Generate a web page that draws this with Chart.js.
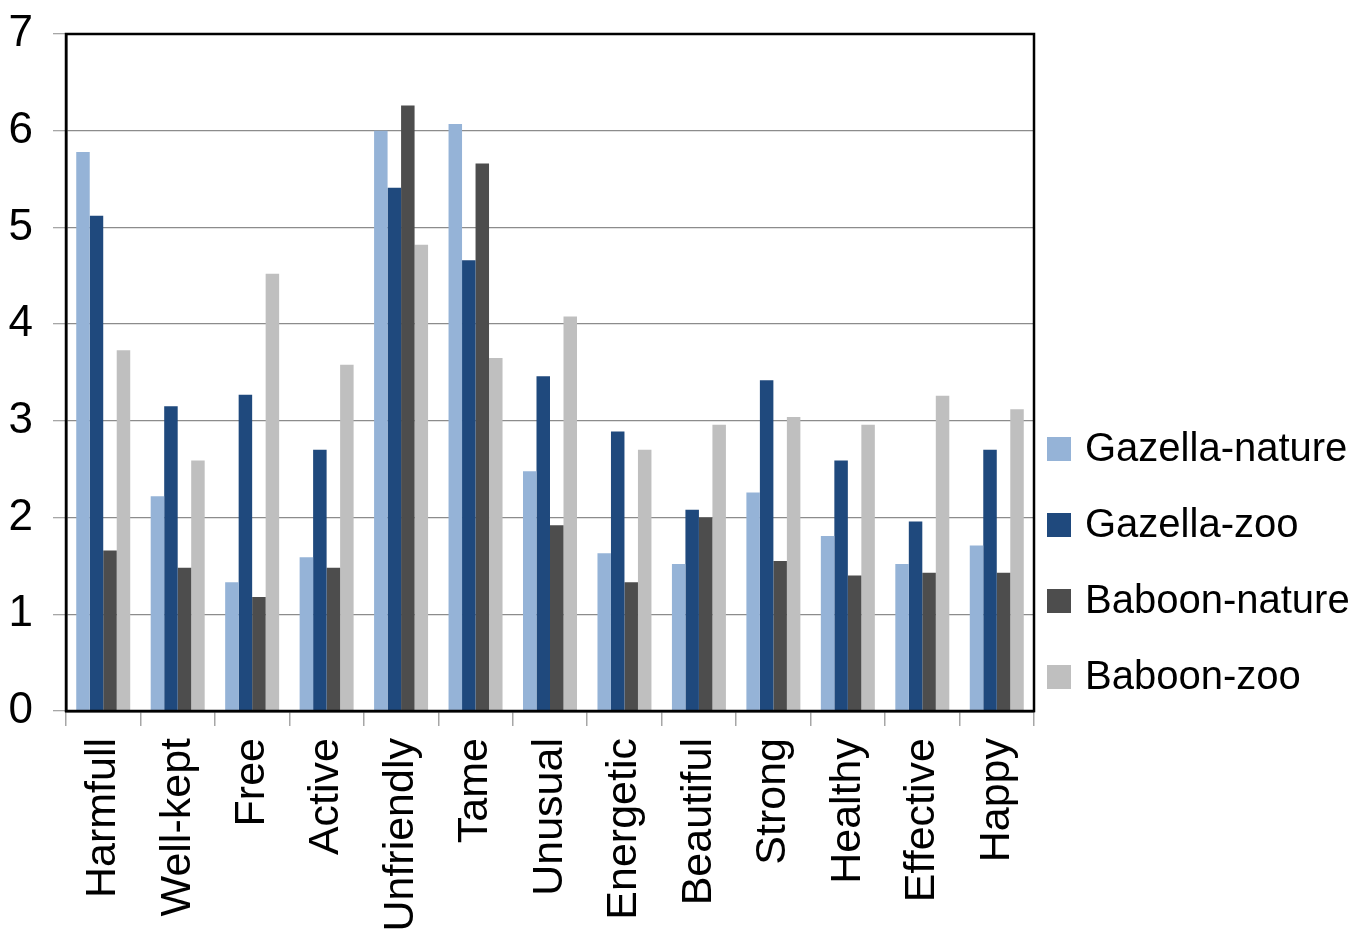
<!DOCTYPE html>
<html>
<head>
<meta charset="utf-8">
<title>Gazella and Baboon ratings</title>
<script src="https://cdn.jsdelivr.net/npm/chart.js@4.4.1/dist/chart.umd.min.js"></script>
<style>
  html, body { margin: 0; padding: 0; background: #ffffff; }
  #wrap { width: 1371px; height: 929px; }
</style>
</head>
<body>
<div id="wrap"><canvas id="chart" width="1371" height="929"></canvas></div>
<script>
// Adjectives rated for each animal / setting
const categories = ['Harmfull', 'Well-kept', 'Free', 'Active', 'Unfriendly', 'Tame', 'Unusual',
  'Energetic', 'Beautiful', 'Strong', 'Healthy', 'Effective', 'Happy'];

// Mean ratings per group
const gazellaNature = [5.78, 2.22, 1.33, 1.59, 6.00, 6.07, 2.48, 1.63, 1.52, 2.26, 1.81, 1.52, 1.71];
const gazellaZoo    = [5.12, 3.15, 3.27, 2.70, 5.41, 4.66, 3.46, 2.89, 2.08, 3.42, 2.59, 1.96, 2.70];
const baboonNature  = [1.66, 1.48, 1.18, 1.48, 6.26, 5.66, 1.92, 1.33, 2.00, 1.55, 1.40, 1.43, 1.43];
const baboonZoo     = [3.73, 2.59, 4.52, 3.58, 4.82, 3.65, 4.08, 2.70, 2.96, 3.04, 2.96, 3.26, 3.12];

const seriesNames = ['Gazella-nature', 'Gazella-zoo', 'Baboon-nature', 'Baboon-zoo'];

// Y axis scale
const yMin = 0;
const yMax = 7;
const yStep = 1;

const FONT = "'Liberation Sans', Arial, Helvetica, sans-serif";

// Frame around the plotting area
const framePlugin = {
  id: 'frame',
  afterDatasetsDraw(chart) {
    const { ctx, chartArea: a } = chart;
    ctx.save();
    ctx.strokeStyle = '#000000';
    ctx.lineWidth = 2.5;
    ctx.strokeRect(a.left, a.top, a.right - a.left, a.bottom - a.top);
    ctx.restore();
  }
};

// Legend block to the right of the plot, built from the datasets
const sideLegendPlugin = {
  id: 'sideLegend',
  afterDraw(chart) {
    const { ctx, chartArea: a } = chart;
    const box = 24;
    const rowGap = 76;
    const firstRowY = a.top + 415;
    ctx.save();
    ctx.font = '40px ' + FONT;
    ctx.textBaseline = 'middle';
    ctx.textAlign = 'left';
    chart.data.datasets.forEach((ds, i) => {
      const cy = firstRowY + i * rowGap;
      ctx.fillStyle = ds.backgroundColor;
      ctx.fillRect(a.right + 13, cy - box / 2, box, box);
      ctx.fillStyle = '#000000';
      ctx.fillText(ds.label, a.right + 51, cy + 1);
    });
    ctx.restore();
  }
};

const colors = ['#95b3d7', '#1f497d', '#4d4d4d', '#bfbfbf'];
const seriesValues = [gazellaNature, gazellaZoo, baboonNature, baboonZoo];

new Chart(document.getElementById('chart'), {
  type: 'bar',
  data: {
    labels: categories,
    datasets: seriesValues.map((vals, i) => ({
      label: seriesNames[i],
      data: vals,
      backgroundColor: colors[i],
      borderWidth: 0,
      categoryPercentage: 0.725,
      barPercentage: 1.0
    }))
  },
  options: {
    responsive: false,
    animation: false,
    devicePixelRatio: 1,
    layout: { padding: { top: 34, right: 337, bottom: 0, left: 0 } },
    plugins: {
      legend: { display: false },
      tooltip: { enabled: false },
      title: { display: false }
    },
    scales: {
      x: {
        offset: true,
        grid: {
          offset: true,
          drawOnChartArea: false,
          drawTicks: true,
          tickLength: 15,
          color: '#a6a6a6',
          lineWidth: 1.5
        },
        border: { display: true, color: '#000000', width: 2.5 },
        ticks: {
          color: '#000000',
          font: { family: FONT, size: 43 },
          minRotation: 90,
          maxRotation: 90,
          autoSkip: false,
          padding: 12
        },
        afterFit(scale) { scale.height = 218; }
      },
      y: {
        min: yMin,
        max: yMax,
        grid: {
          color: '#8c8c8c',
          lineWidth: 1.3,
          tickColor: '#a6a6a6',
          tickLength: 13
        },
        border: { display: true, color: '#000000', width: 2.5 },
        ticks: {
          stepSize: yStep,
          color: '#000000',
          font: { family: FONT, size: 44, lineHeight: 0.5 },
          padding: 20
        },
        afterFit(scale) { scale.width = 66; }
      }
    }
  },
  plugins: [framePlugin, sideLegendPlugin]
});
</script>
</body>
</html>
